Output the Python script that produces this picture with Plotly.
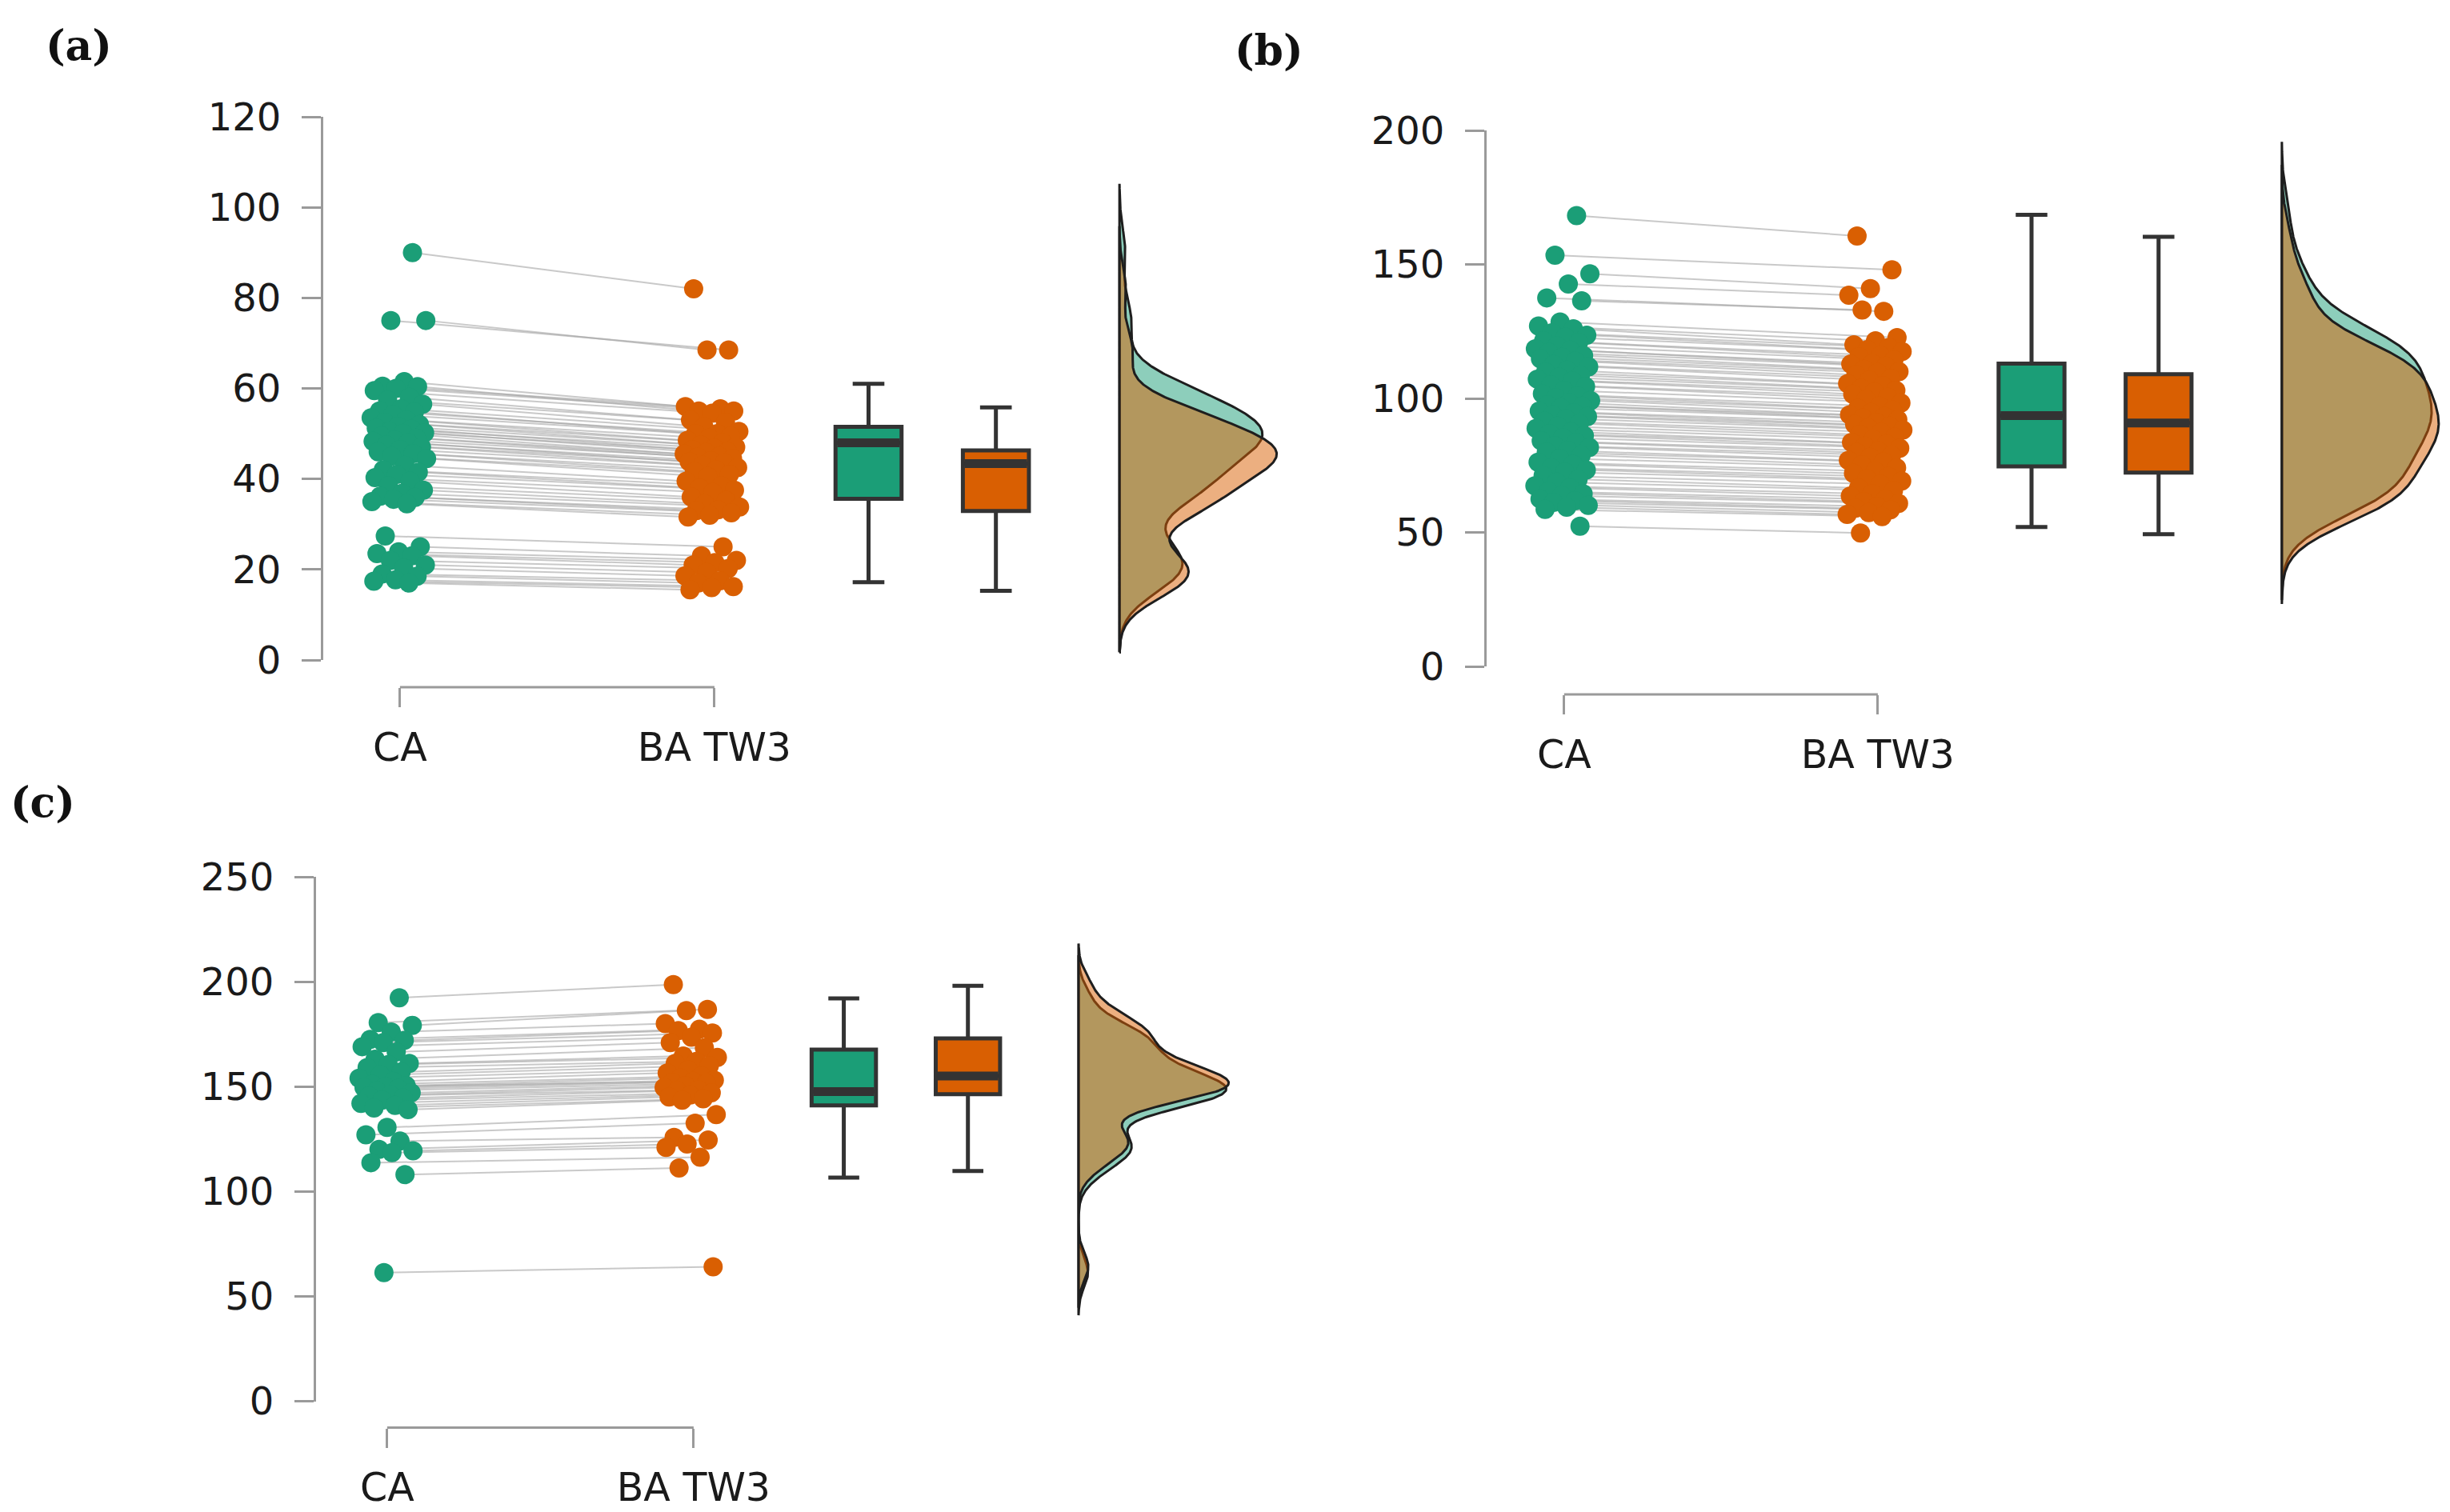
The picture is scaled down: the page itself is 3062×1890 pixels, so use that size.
import numpy as np
import plotly.graph_objects as go

# ---------------- data ----------------
categories = ["CA", "BA TW3"]

# panel (a)
a_ca = [90, 75, 75,
        61.5, 60.5, 60.4, 60, 59.5, 58, 57.4, 56.5,
        55.5, 55, 54.8, 54.2, 53.5, 53, 52.5, 52, 51.6, 51.2, 51, 50.5, 50.2, 50,
        49.5, 49, 48.6, 48.3, 48, 47.5, 47, 46.5, 46, 45.6, 45, 44.5,
        43, 42, 41.5, 41, 40.3, 39.5, 38.5, 37.5, 36.8, 36.2, 35.9, 35.5, 35, 34.5,
        27.4, 25, 23.9, 23.5, 23, 22, 21, 20.3, 19, 18.5, 17.7, 17.4, 17]
a_ba = [82, 68.5, 68.5,
        56, 55.5, 55, 55, 54.5, 53, 52.5, 51.5,
        50.5, 50, 50, 49.5, 49, 48.5, 48, 47.5, 47, 46.8, 46.5, 46, 45.8, 45.5,
        45, 44.8, 44.5, 44, 43.8, 43.5, 43, 42.5, 42, 41.6, 41, 40.5,
        39.5, 38.5, 38, 37.5, 37, 36, 35.2, 34.5, 33.8, 33.2, 33, 32.5, 32, 31.6,
        25, 23, 22, 21.5, 21, 20.2, 19.3, 18.6, 17.5, 17, 16.2, 16, 15.5]
# box statistics: lower whisker, q1, median, q3, upper whisker
a_box_ca = [17.2, 35.6, 48.0, 51.5, 61.0]
a_box_ba = [15.3, 32.9, 43.4, 46.3, 55.8]
a_ticks = [0, 20, 40, 60, 80, 100, 120]

# panel (b)
b_ca = [168.2, 153.4, 146.5, 142.7, 137.5, 136.4,
        128.5, 127.0, 126.0, 124.5, 123.6, 122.8, 121.5, 120.8,
        119.6, 118.5, 118.0, 117.2, 116.0, 115.3, 114.8, 113.9, 112.6, 111.8, 110.5,
        109.8, 108.6, 107.9, 107.2, 106.5, 105.1, 104.4, 103.0, 101.7, 100.9, 100.2,
        99.2, 98.4, 97.6, 97.1, 96.5, 95.3, 94.6, 93.9, 93.2, 92.4, 91.5, 90.6,
        89.6, 88.8, 87.5, 86.9, 86.1, 85.3, 84.2, 83.6, 82.4, 81.7, 80.5,
        79.9, 78.8, 77.6, 76.2, 75.4, 74.1, 73.3, 72.5, 71.2,
        69.8, 68.7, 67.4, 66.6, 65.2, 64.4, 63.7, 62.5, 61.8, 61.2, 60.1,
        59.4, 58.6, 52.3]
b_ba = [160.6, 148.0, 141.0, 138.5, 132.5, 133.0,
        122.7, 121.5, 120.0, 119.0, 118.2, 117.5, 116.0, 115.5,
        114.3, 113.0, 112.8, 112.0, 110.8, 110.0, 109.6, 108.8, 107.5, 106.8, 105.5,
        104.8, 103.7, 103.0, 102.4, 101.6, 100.4, 99.6, 98.3, 97.1, 96.3, 95.6,
        94.7, 93.9, 93.2, 92.7, 92.1, 91.0, 90.3, 89.6, 89.0, 88.2, 87.4, 86.5,
        85.5, 84.8, 83.6, 83.0, 82.2, 81.4, 80.4, 79.8, 78.7, 78.0, 76.9,
        76.3, 75.2, 74.1, 72.8, 72.0, 70.8, 70.0, 69.2, 68.0,
        66.6, 65.6, 64.4, 63.6, 62.3, 61.5, 60.8, 59.7, 59.0, 58.4, 57.4,
        56.7, 55.9, 49.8]
b_box_ca = [52.0, 74.6, 93.6, 113.0, 168.5]
b_box_ba = [49.3, 72.3, 90.8, 109.0, 160.3]
b_ticks = [0, 50, 100, 150, 200]

# panel (c)
c_ca = [192.3, 180.5, 179.2, 176, 172.5, 172, 171, 169, 166.5, 163, 161, 160.5,
        159, 157, 155.5, 154, 152.5, 151, 150.5, 150, 149.5, 149, 148, 147, 146,
        145.5, 144.5, 143.5, 142, 141, 139.8, 139, 130.5, 127, 124, 120, 119.4,
        118.5, 113.7, 108, 61.3]
c_ba = [198.6, 186.8, 186.2, 180, 177.3, 176.7, 175.5, 173.5, 171, 168.5, 164.6, 163.9,
        162, 161, 160, 158, 156.5, 155, 154, 153, 152.5, 152, 151.5, 150.5, 149.5,
        148.5, 148, 147, 146, 145, 144.2, 143.5, 136.6, 132.5, 125.8, 124.5, 122.6,
        121, 116.3, 111.2, 64.1]
c_box_ca = [106.6, 141.0, 147.6, 167.6, 192.0]
c_box_ba = [109.7, 146.4, 155.0, 173.0, 198.0]
c_ticks = [0, 50, 100, 150, 200, 250]

panel_labels = ["(a)", "(b)", "(c)"]

# ---------------- styling / layout constants ----------------
W, H = 3062, 1890
GREEN = "#1b9e77"
ORANGE = "#d95f02"
GREEN_FILL = "rgba(27,158,119,0.5)"
ORANGE_FILL = "rgba(217,95,2,0.5)"
AXIS_GRAY = "#9a9a9a"
DARK = "#333333"
BOX_POS = [1.49, 1.895]
BOX_W = 0.21
JIT = 0.18

panels = [
    dict(ca=a_ca, ba=a_ba, bca=a_box_ca, bba=a_box_ba, ticks=a_ticks,
         xdom=[404 / W, 1620 / W], xr=[-0.244, 2.85],
         ydom=[1 - 825 / H, 1 - 146 / H], yr=[0, 120],
         brk=1 - 859 / H, base=2.288, dw=0.50,
         lab=(98 / W, 1 - 56 / H)),
    dict(ca=b_ca, ba=b_ba, bca=b_box_ca, bba=b_box_ba, ticks=b_ticks,
         xdom=[1858 / W, 1.0], xr=[-0.247, 2.824],
         ydom=[1 - 833 / H, 1 - 163 / H], yr=[0, 200],
         brk=1 - 868 / H, base=2.288, dw=0.50,
         lab=(1586 / W, 1 - 63 / H)),
    dict(ca=c_ca, ba=c_ba, bca=c_box_ca, bba=c_box_ba, ticks=c_ticks,
         xdom=[395 / W, 1600 / W], xr=[-0.232, 2.914],
         ydom=[1 - 1751.5 / H, 1 - 1096 / H], yr=[0, 250],
         brk=1 - 1784.6 / H, base=2.256, dw=0.49,
         lab=(54 / W, 1 - 1002 / H)),
]


def nrd0(v):
    v = np.asarray(v, float)
    sd = v.std(ddof=1)
    q75, q25 = np.percentile(v, [75, 25])
    lo = min(sd, (q75 - q25) / 1.34)
    return 0.9 * lo * len(v) ** -0.2


def kde(v):
    v = np.asarray(v, float)
    bw = nrd0(v)
    g = np.linspace(v.min() - 3 * bw, v.max() + 3 * bw, 500)
    d = np.exp(-0.5 * ((g[:, None] - v[None, :]) / bw) ** 2).sum(1) / (len(v) * bw * np.sqrt(2 * np.pi))
    return g, d


def jitter(n, phase):
    return np.array([(((i + 1) * 0.6180339887 + phase) % 1.0 - 0.5) * JIT for i in range(n)])


fig = go.Figure()
layout_axes = {}
shapes = []
annotations = []

for k, p in enumerate(panels):
    sfx = "" if k == 0 else str(k + 1)
    xa, ya = "x" + sfx, "y" + sfx
    ca = np.asarray(p["ca"], float)
    ba = np.asarray(p["ba"], float)
    n = len(ca)
    xca = 0 + jitter(n, 0.13) - 0.005
    xba = 1 + jitter(n, 0.57) - 0.01

    # connecting lines
    lx, ly = [], []
    for i in range(n):
        lx += [xca[i], xba[i], None]
        ly += [ca[i], ba[i], None]
    fig.add_trace(go.Scatter(x=lx, y=ly, mode="lines", xaxis=xa, yaxis=ya,
                             line=dict(color="rgba(165,165,165,0.6)", width=2),
                             hoverinfo="skip", showlegend=False))
    # points
    fig.add_trace(go.Scatter(x=xca, y=ca, mode="markers", xaxis=xa, yaxis=ya,
                             marker=dict(color=GREEN, size=24, line=dict(width=0)),
                             showlegend=False))
    fig.add_trace(go.Scatter(x=xba, y=ba, mode="markers", xaxis=xa, yaxis=ya,
                             marker=dict(color=ORANGE, size=24, line=dict(width=0)),
                             showlegend=False))

    # boxes
    for pos, st, col in [(BOX_POS[0], p["bca"], GREEN), (BOX_POS[1], p["bba"], ORANGE)]:
        fig.add_trace(go.Box(x=[pos], lowerfence=[st[0]], q1=[st[1]], median=[st[2]],
                             q3=[st[3]], upperfence=[st[4]], width=BOX_W, whiskerwidth=0.48,
                             fillcolor=col, line=dict(color=DARK, width=5),
                             boxpoints=False, xaxis=xa, yaxis=ya, showlegend=False))
        fig.add_trace(go.Scatter(x=[pos - BOX_W / 2 + 0.006, pos + BOX_W / 2 - 0.006],
                                 y=[st[2], st[2]], mode="lines", xaxis=xa, yaxis=ya,
                                 line=dict(color=DARK, width=11), hoverinfo="skip",
                                 showlegend=False))

    # densities
    gca, dca = kde(ca)
    gba, dba = kde(ba)
    scale = p["dw"] / max(dca.max(), dba.max())
    base = p["base"]
    for g, d, fc in [(gca, dca, GREEN_FILL), (gba, dba, ORANGE_FILL)]:
        xs = np.concatenate([[base], base + d * scale, [base], [base]])
        ys = np.concatenate([[g[0]], g, [g[-1]], [g[0]]])
        fig.add_trace(go.Scatter(x=xs, y=ys, mode="lines", fill="toself", fillcolor=fc,
                                 line=dict(color="#1e1e1e", width=3), xaxis=xa, yaxis=ya,
                                 hoverinfo="skip", showlegend=False))

    layout_axes["xaxis" + sfx] = dict(
        domain=p["xdom"], range=p["xr"], anchor="free", position=p["brk"],
        automargin=False,
        showline=False, showgrid=False, zeroline=False,
        ticks="outside", ticklen=24, tickwidth=3, tickcolor=AXIS_GRAY,
        tickvals=[0, 1], ticktext=categories, ticklabelstandoff=8,
        tickfont=dict(family="DejaVu Sans", size=49, color="#1a1a1a"))
    layout_axes["yaxis" + sfx] = dict(
        domain=p["ydom"], range=p["yr"], anchor=xa, automargin=False,
        showline=True, linecolor=AXIS_GRAY, linewidth=3,
        showgrid=False, zeroline=False,
        ticks="outside", ticklen=24, tickwidth=3, tickcolor=AXIS_GRAY,
        tickvals=p["ticks"], ticklabelstandoff=16,
        tickfont=dict(family="DejaVu Sans", size=48, color="#1a1a1a"))

    shapes.append(dict(type="line", xref=xa, yref="paper", x0=0, x1=1,
                       y0=p["brk"], y1=p["brk"], line=dict(color=AXIS_GRAY, width=3)))
    annotations.append(dict(text="<b>" + panel_labels[k] + "</b>", xref="paper", yref="paper",
                            x=p["lab"][0], y=p["lab"][1], xanchor="center", yanchor="middle",
                            showarrow=False,
                            font=dict(family="DejaVu Serif", size=52, color="#111111")))

fig.update_layout(width=W, height=H, autosize=False,
                  margin=dict(l=0, r=0, t=0, b=0, autoexpand=False),
                  paper_bgcolor="white", plot_bgcolor="white",
                  showlegend=False, shapes=shapes, annotations=annotations,
                  **layout_axes)

fig.write_html("out.html", config={"displayModeBar": False},
               post_script="document.body.style.margin='0px';")
